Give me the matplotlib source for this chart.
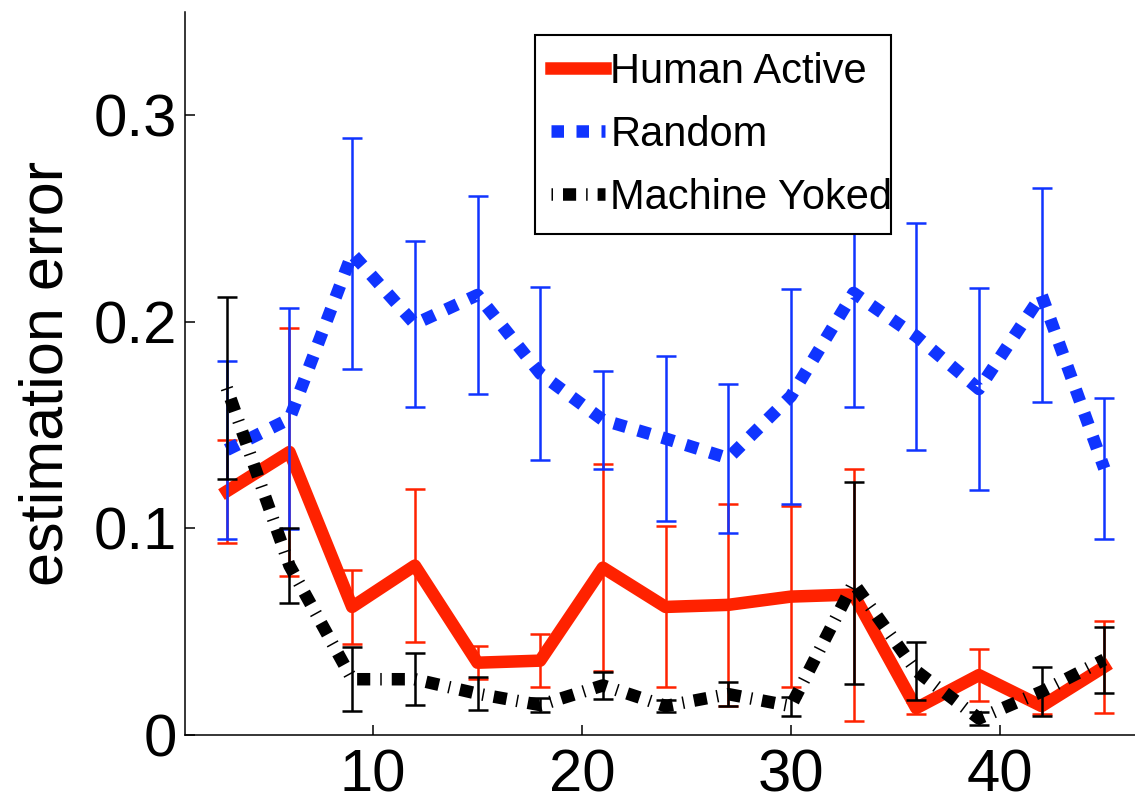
import numpy as np
import matplotlib
matplotlib.use('Agg')
import matplotlib.pyplot as plt

plt.rcParams['font.family'] = ['Liberation Sans', 'DejaVu Sans']

C_RED = '#ff2200'; C_BLUE = '#1034ff'; C_BLACK = '#000000'

# number of samples on the x axis
x = [3, 6, 9, 12, 15, 18, 21, 24, 27, 30, 33, 36, 39, 42, 45]

human = [0.118, 0.137, 0.062, 0.082, 0.035, 0.036, 0.081, 0.062, 0.063, 0.067, 0.068, 0.013, 0.029, 0.014, 0.033]
human_err = [0.025, 0.060, 0.018, 0.037, 0.008, 0.013, 0.050, 0.039, 0.049, 0.044, 0.061, 0.003, 0.0125, 0.004, 0.0224]

random_ = [0.138, 0.153, 0.233, 0.199, 0.213, 0.175, 0.1525, 0.1435, 0.134, 0.164, 0.214, 0.193, 0.1675, 0.213, 0.129]
random_err = [0.043, 0.0535, 0.056, 0.040, 0.048, 0.042, 0.0235, 0.040, 0.036, 0.052, 0.055, 0.055, 0.049, 0.052, 0.034]

yoked = [0.168, 0.082, 0.027, 0.027, 0.020, 0.0145, 0.024, 0.014, 0.0198, 0.014, 0.0735, 0.031, 0.008, 0.021, 0.0365]
yoked_err = [0.044, 0.018, 0.0155, 0.0125, 0.008, 0.0035, 0.0066, 0.003, 0.006, 0.0046, 0.049, 0.014, 0.003, 0.012, 0.016]

labels = ['Human Active', 'Random', 'Machine Yoked']
xticks = [10, 20, 30, 40]
yticks = [0, 0.1, 0.2, 0.3]
ytick_labels = ['0', '0.1', '0.2', '0.3']

W, H = 1135, 809
fig = plt.figure(figsize=(W/100, H/100), dpi=100)
ax = fig.add_axes([185/W, 74/H, (W-185)/W, 723/H])

LW = 9
series = [(human, human_err, C_RED, '-'),
          (random_, random_err, C_BLUE, (0, (1, 1))),
          (yoked, yoked_err, C_BLACK, (0, (0.12, 0.8, 1.05, 0.8)))]
handles = []
for (m, e, c, ls), lab in zip(series, labels):
    ax.errorbar(x, m, yerr=e, fmt='none', ecolor=c, elinewidth=1.8, capsize=7, capthick=1.8)
    h, = ax.plot(x, m, color=c, lw=LW, linestyle=ls, label=lab)
    handles.append(h)

ax.set_xlim(1, 46.47); ax.set_ylim(0, 0.35)
ax.set_xticks(xticks); ax.set_yticks(yticks); ax.set_yticklabels(ytick_labels)
for s in ['top', 'right']: ax.spines[s].set_visible(False)
for s in ['left', 'bottom']: ax.spines[s].set_linewidth(1.1)
ax.tick_params(direction='in', length=7, width=1.1, labelsize=43)
ax.tick_params(axis='x', pad=10)
ax.tick_params(axis='y', pad=6)
ax.set_ylabel('estimation error', fontsize=44)
ax.yaxis.set_label_coords(-0.115, 0.5)

leg = ax.legend(handles, labels, loc='upper left', bbox_to_anchor=(0.368, 0.696, 0.375, 0.272),
                mode='expand', borderaxespad=0, fontsize=30, handlelength=1.3, handletextpad=0.12,
                labelspacing=0.55, borderpad=0.4, fancybox=False, framealpha=1, edgecolor='black')
leg.get_frame().set_linewidth(1.5)
for t in leg.get_texts(): t.set_clip_path(leg.get_frame())

fig.savefig('out.png', dpi=100)
